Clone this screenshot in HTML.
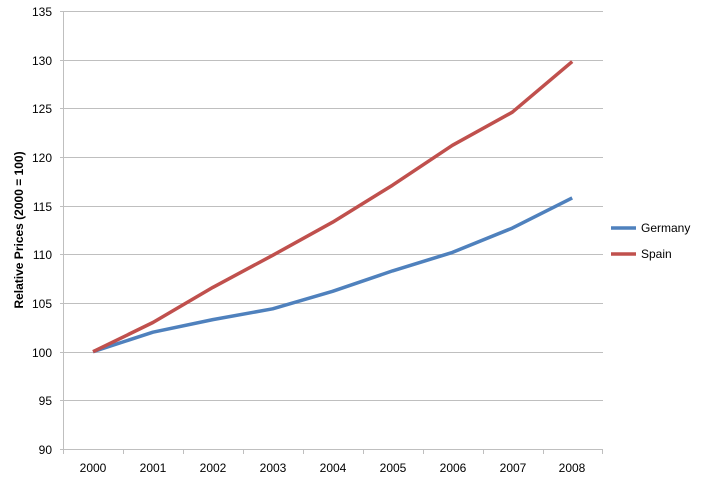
<!DOCTYPE html>
<html><head><meta charset="utf-8"><style>body{margin:0;background:#fff}svg{display:block}text{font-family:"Liberation Sans",sans-serif;font-size:12px;fill:#000}</style></head>
<body><svg width="701" height="479" viewBox="0 0 701 479">
<g stroke="#bfbfbf" stroke-width="1">
<line x1="60" y1="11.5" x2="603" y2="11.5"/><line x1="60" y1="60.5" x2="603" y2="60.5"/><line x1="60" y1="108.5" x2="603" y2="108.5"/><line x1="60" y1="157.5" x2="603" y2="157.5"/><line x1="60" y1="206.5" x2="603" y2="206.5"/><line x1="60" y1="254.5" x2="603" y2="254.5"/><line x1="60" y1="303.5" x2="603" y2="303.5"/><line x1="60" y1="352.5" x2="603" y2="352.5"/><line x1="60" y1="400.5" x2="603" y2="400.5"/><line x1="60" y1="449.5" x2="603" y2="449.5"/>
<line x1="63.5" y1="11" x2="63.5" y2="449"/>
<line x1="63.5" y1="449" x2="63.5" y2="454"/><line x1="123.5" y1="449" x2="123.5" y2="454"/><line x1="183.5" y1="449" x2="183.5" y2="454"/><line x1="243.5" y1="449" x2="243.5" y2="454"/><line x1="303.5" y1="449" x2="303.5" y2="454"/><line x1="363.5" y1="449" x2="363.5" y2="454"/><line x1="423.5" y1="449" x2="423.5" y2="454"/><line x1="483.5" y1="449" x2="483.5" y2="454"/><line x1="543.5" y1="449" x2="543.5" y2="454"/><line x1="602.5" y1="449" x2="602.5" y2="454"/>
</g>
<g text-anchor="end">
<text x="52" y="16">135</text><text x="52" y="65">130</text><text x="52" y="113">125</text><text x="52" y="162">120</text><text x="52" y="211">115</text><text x="52" y="259">110</text><text x="52" y="308">105</text><text x="52" y="357">100</text><text x="52" y="405">95</text><text x="52" y="454">90</text>
</g>
<g text-anchor="middle">
<text x="93" y="472">2000</text><text x="153" y="472">2001</text><text x="213" y="472">2002</text><text x="273" y="472">2003</text><text x="333" y="472">2004</text><text x="393" y="472">2005</text><text x="453" y="472">2006</text><text x="513" y="472">2007</text><text x="572" y="472">2008</text>
</g>
<text transform="translate(23,230) rotate(-90)" text-anchor="middle" style="font-weight:bold;font-size:12px">Relative Prices (2000 = 100)</text>
<polyline fill="none" stroke="#4f81bd" stroke-width="3.5" stroke-linejoin="round" points="93,351.7 152.9,332.2 212.8,319.6 272.7,308.8 332.6,291.3 392.5,270.9 452.4,252.4 512.3,228.1 572.2,197.9"/>
<polyline fill="none" stroke="#c0504d" stroke-width="3.5" stroke-linejoin="round" points="93,351.7 152.9,322.5 212.8,287.4 272.7,255.3 332.6,222.2 392.5,185.2 452.4,145.3 512.3,112.2 572.2,61.6"/>
<line x1="611" y1="228" x2="636" y2="228" stroke="#4f81bd" stroke-width="3.5"/>
<text x="641" y="232">Germany</text>
<line x1="611" y1="254" x2="636" y2="254" stroke="#c0504d" stroke-width="3.5"/>
<text x="641" y="258">Spain</text>
</svg></body></html>
